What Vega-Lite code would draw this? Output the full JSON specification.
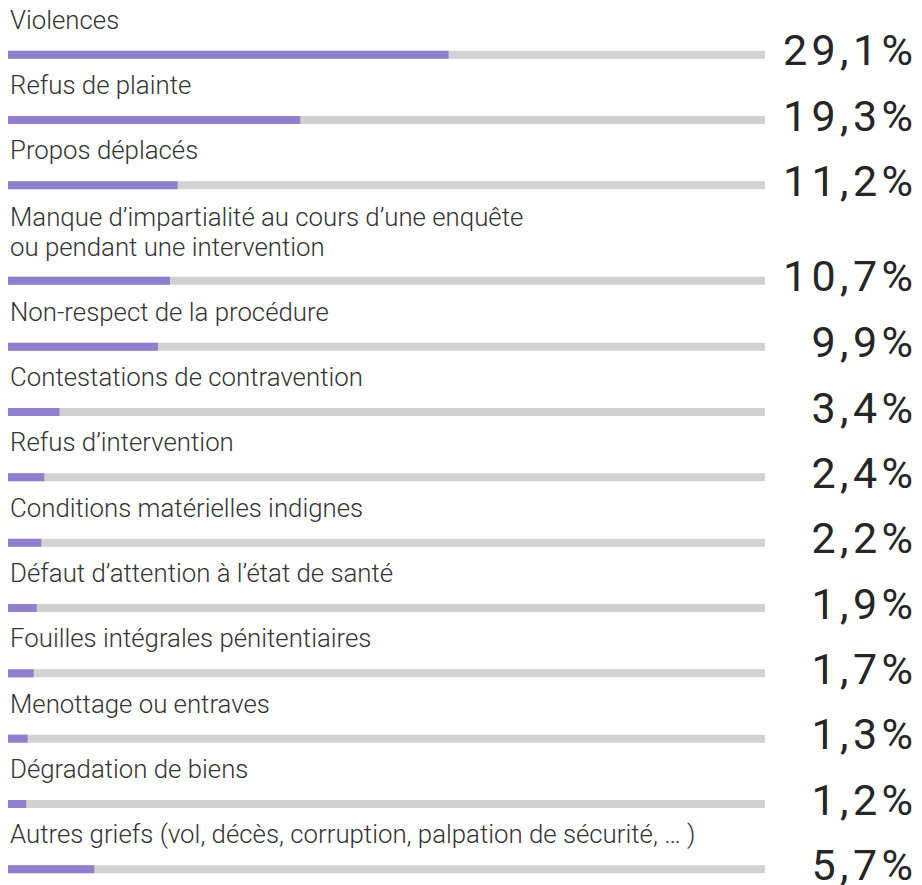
{
  "$schema": "https://vega.github.io/schema/vega-lite/v6.json",
  "background": "white",
  "padding": {"left": 4, "top": 7, "right": 0, "bottom": 0},
  "autosize": {"type": "pad"},
  "bounds": "flush",
  "spacing": 0,
  "config": {"view": {"stroke": null}, "concat": {"spacing": 0}},
  "data": {
    "values": [
      {"cat": "Violences", "label": "Violences", "value": 29.1},
      {"cat": "Refus de plainte", "label": "Refus de plainte", "value": 19.3},
      {"cat": "Propos déplacés", "label": "Propos déplacés", "value": 11.2},
      {"cat": "Manque d’impartialité", "label": "Manque d’impartialité au cours d’une enquête\nou pendant une intervention", "value": 10.7},
      {"cat": "Non-respect de la procédure", "label": "Non-respect de la procédure", "value": 9.9},
      {"cat": "Contestations de contravention", "label": "Contestations de contravention", "value": 3.4},
      {"cat": "Refus d’intervention", "label": "Refus d’intervention", "value": 2.4},
      {"cat": "Conditions matérielles indignes", "label": "Conditions matérielles indignes", "value": 2.2},
      {"cat": "Défaut d’attention à l’état de santé", "label": "Défaut d’attention à l’état de santé", "value": 1.9},
      {"cat": "Fouilles intégrales pénitentiaires", "label": "Fouilles intégrales pénitentiaires", "value": 1.7},
      {"cat": "Menottage ou entraves", "label": "Menottage ou entraves", "value": 1.3},
      {"cat": "Dégradation de biens", "label": "Dégradation de biens", "value": 1.2},
      {"cat": "Autres griefs", "label": "Autres griefs (vol, décès, corruption, palpation de sécurité, … )", "value": 5.7}
    ]
  },
  "vconcat": [
    {
      "transform": [{"filter": {"field": "cat", "oneOf": ["Violences", "Refus de plainte", "Propos déplacés"]}}],
      "width": 757,
      "height": 196,
      "encoding": {
        "y": {"field": "cat", "type": "nominal", "sort": null, "axis": null, "bandPosition": 0.5, "scale": {"paddingInner": 0, "paddingOuter": 0}}
      },
      "layer": [
        {"mark": {"type": "rule", "color": "#d1d1d1", "strokeWidth": 8, "strokeCap": "butt"},
         "encoding": {"x": {"datum": 50, "type": "quantitative", "scale": {"domain": [0, 50]}, "axis": null}, "x2": {"datum": 0}}},
        {"mark": {"type": "rule", "color": "#8f7fcc", "strokeWidth": 8, "strokeCap": "butt"},
         "encoding": {"x": {"field": "value", "type": "quantitative"}, "x2": {"datum": 0}}},
        {"mark": {"type": "text", "align": "left", "baseline": "alphabetic", "dx": 2, "dy": -26, "font": "Roboto", "fontWeight": 300, "fontSize": 25.8, "color": "#333333", "lineBreak": "\n", "lineHeight": 30},
         "encoding": {"x": {"datum": 0, "type": "quantitative"}, "text": {"field": "label"}}},
        {"mark": {"type": "text", "align": "right", "baseline": "alphabetic", "dx": 148, "dy": 10.5, "font": "Roboto", "fontWeight": 400, "fontSize": 43, "color": "#262626",
                  "text": {"expr": "join(split(replace(format(datum.value, '.1f'), '.', ',') + '%', ''), '\u200a')"}},
         "encoding": {"x": {"datum": 50, "type": "quantitative"}}}
      ]
    },
    {
      "transform": [{"filter": {"field": "cat", "oneOf": ["Manque d’impartialité"]}}],
      "width": 757,
      "height": 95.33,
      "encoding": {
        "y": {"field": "cat", "type": "nominal", "sort": null, "axis": null, "bandPosition": 0.657, "scale": {"paddingInner": 0, "paddingOuter": 0}}
      },
      "layer": [
        {"mark": {"type": "rule", "color": "#d1d1d1", "strokeWidth": 8, "strokeCap": "butt"},
         "encoding": {"x": {"datum": 50, "type": "quantitative", "scale": {"domain": [0, 50]}, "axis": null}, "x2": {"datum": 0}}},
        {"mark": {"type": "rule", "color": "#8f7fcc", "strokeWidth": 8, "strokeCap": "butt"},
         "encoding": {"x": {"field": "value", "type": "quantitative"}, "x2": {"datum": 0}}},
        {"mark": {"type": "text", "align": "left", "baseline": "alphabetic", "dx": 2, "dy": -55, "font": "Roboto", "fontWeight": 300, "fontSize": 25.8, "color": "#333333", "lineBreak": "\n", "lineHeight": 30},
         "encoding": {"x": {"datum": 0, "type": "quantitative"}, "text": {"field": "label"}}},
        {"mark": {"type": "text", "align": "right", "baseline": "alphabetic", "dx": 148, "dy": 10.5, "font": "Roboto", "fontWeight": 400, "fontSize": 43, "color": "#262626",
                  "text": {"expr": "join(split(replace(format(datum.value, '.1f'), '.', ',') + '%', ''), '\u200a')"}},
         "encoding": {"x": {"datum": 50, "type": "quantitative"}}}
      ]
    },
    {
      "transform": [{"filter": {"field": "cat", "oneOf": ["Non-respect de la procédure", "Contestations de contravention", "Refus d’intervention", "Conditions matérielles indignes", "Défaut d’attention à l’état de santé", "Fouilles intégrales pénitentiaires", "Menottage ou entraves", "Dégradation de biens", "Autres griefs"]}}],
      "width": 757,
      "height": 588,
      "encoding": {
        "y": {"field": "cat", "type": "nominal", "sort": null, "axis": null, "bandPosition": 0.5, "scale": {"paddingInner": 0, "paddingOuter": 0}}
      },
      "layer": [
        {"mark": {"type": "rule", "color": "#d1d1d1", "strokeWidth": 8, "strokeCap": "butt"},
         "encoding": {"x": {"datum": 50, "type": "quantitative", "scale": {"domain": [0, 50]}, "axis": null}, "x2": {"datum": 0}}},
        {"mark": {"type": "rule", "color": "#8f7fcc", "strokeWidth": 8, "strokeCap": "butt"},
         "encoding": {"x": {"field": "value", "type": "quantitative"}, "x2": {"datum": 0}}},
        {"mark": {"type": "text", "align": "left", "baseline": "alphabetic", "dx": 2, "dy": -26, "font": "Roboto", "fontWeight": 300, "fontSize": 25.8, "color": "#333333", "lineBreak": "\n", "lineHeight": 30},
         "encoding": {"x": {"datum": 0, "type": "quantitative"}, "text": {"field": "label"}}},
        {"mark": {"type": "text", "align": "right", "baseline": "alphabetic", "dx": 148, "dy": 10.5, "font": "Roboto", "fontWeight": 400, "fontSize": 43, "color": "#262626",
                  "text": {"expr": "join(split(replace(format(datum.value, '.1f'), '.', ',') + '%', ''), '\u200a')"}},
         "encoding": {"x": {"datum": 50, "type": "quantitative"}}}
      ]
    }
  ]
}
